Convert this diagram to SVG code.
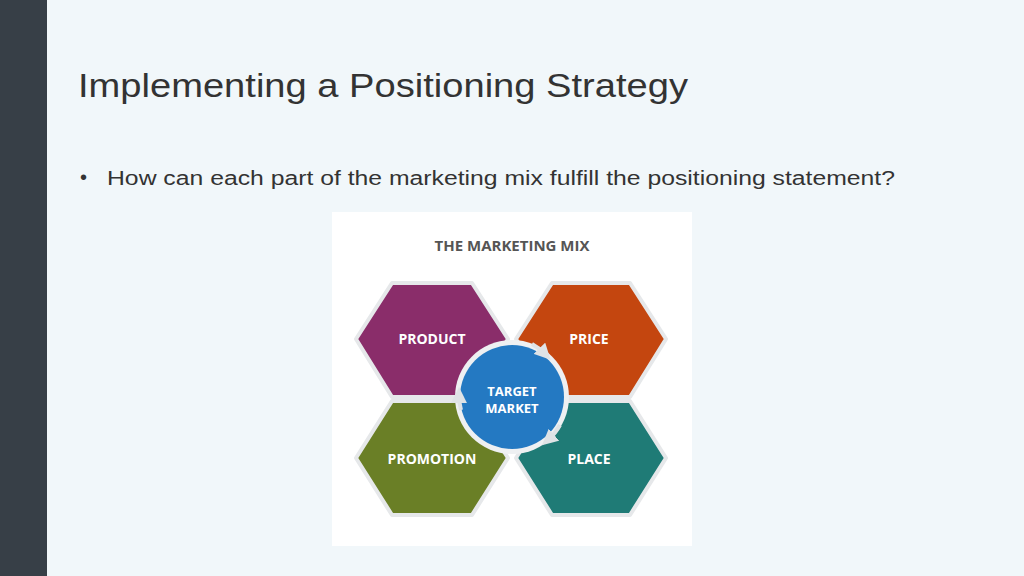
<svg xmlns="http://www.w3.org/2000/svg" width="1024" height="576" viewBox="0 0 1024 576">
<style>
.hex{stroke:#e6e8ea;stroke-width:4;stroke-linejoin:round}
.lbl{font-family:"Open Sans","Liberation Sans",sans-serif;font-weight:bold;font-size:14px;fill:#fff;text-anchor:middle}
.tm{font-size:13px}
</style>
<defs><marker id="ah" markerWidth="4" markerHeight="4" refX="2" refY="2" orient="auto"><path d="M0,0 L4,2 L0,4 Z" fill="#dfe3e6"/></marker></defs>
<rect width="1024" height="576" fill="#f1f7fa"/>
<rect width="47" height="576" fill="#373f47"/>
<text x="78" y="97" font-family="'Century Gothic','Liberation Sans',sans-serif" font-size="33" fill="#333" textLength="610" lengthAdjust="spacingAndGlyphs">Implementing a Positioning Strategy</text>
<text x="80" y="184" font-family="'Liberation Sans',sans-serif" font-size="20" fill="#333">•</text>
<text x="107" y="185" font-family="'Century Gothic','Liberation Sans',sans-serif" font-size="20" fill="#333" textLength="788" lengthAdjust="spacingAndGlyphs">How can each part of the marketing mix fulfill the positioning statement?</text>
<rect x="332" y="212" width="360" height="334" fill="#fff"/>
<text x="512" y="251" font-family="'Open Sans','Liberation Sans',sans-serif" font-weight="bold" font-size="15" fill="#555" text-anchor="middle">THE MARKETING MIX</text>
<g id="product"><polygon class="hex" fill="#8a2d6a" points="356,339 392,283 472,283 508,339 472,397 392,397"/><text class="lbl" x="432" y="344">PRODUCT</text></g>
<g id="price"><polygon class="hex" fill="#c4460f" points="516,339 552,283 630,283 666,339 630,397 552,397"/><text class="lbl" x="589" y="344">PRICE</text></g>
<g id="promotion"><polygon class="hex" fill="#6a7f26" points="356,458 392,401 472,401 508,458 472,515 392,515"/><text class="lbl" x="432" y="464">PROMOTION</text></g>
<g id="place"><polygon class="hex" fill="#1f7b76" points="516,458 552,401 630,401 666,458 630,515 552,515"/><text class="lbl" x="589" y="464">PLACE</text></g>
<g id="target"><circle cx="512" cy="397" r="57" fill="#eef0f2"/><circle cx="512" cy="397" r="52" fill="#2479c2"/>
<text class="lbl tm" x="512" y="396">TARGET</text><text class="lbl tm" x="512" y="413">MARKET</text></g>
<g id="connectors" fill="none" stroke="#dfe3e6" stroke-width="4">
<path d="M532,344 A55,55 0 0 1 545,354" marker-end="url(#ah)"/>
<path d="M560,425 A55,55 0 0 1 548,440" marker-end="url(#ah)"/>
<path d="M461,410 A55,55 0 0 1 459,395" marker-end="url(#ah)"/>
</g>
</svg>
